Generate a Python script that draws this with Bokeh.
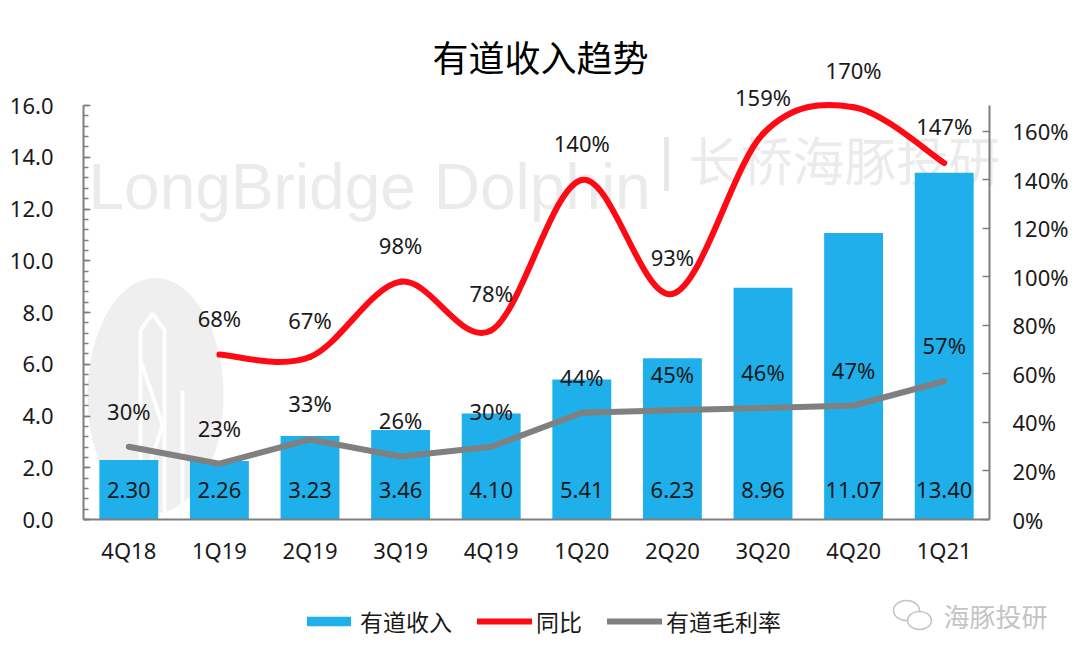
import numpy as np
from bokeh.plotting import figure
from bokeh.models import (Range1d, LinearAxis, FixedTicker, NumeralTickFormatter,
                          PrintfTickFormatter, ColumnDataSource, LabelSet, Label,
                          Legend, LegendItem)
from bokeh.embed import file_html
from bokeh.resources import INLINE
from bokeh.core.properties import value

# ---------------- data ----------------
quarters = ["4Q18", "1Q19", "2Q19", "3Q19", "4Q19", "1Q20", "2Q20", "3Q20", "4Q20", "1Q21"]
revenue = [2.30, 2.26, 3.23, 3.46, 4.10, 5.41, 6.23, 8.96, 11.07, 13.40]
yoy_quarters = ["1Q19", "2Q19", "3Q19", "4Q19", "1Q20", "2Q20", "3Q20", "4Q20", "1Q21"]
yoy = [68, 67, 98, 78, 140, 93, 159, 170, 147]
gross_margin = [30, 23, 33, 26, 30, 44, 45, 46, 47, 57]
left_ticks = [0, 2, 4, 6, 8, 10, 12, 14, 16]
right_ticks = [0, 20, 40, 60, 80, 100, 120, 140, 160]

BLUE = "#1FAFEA"
RED = "#FF0A14"
GRAY = "#808080"
AXIS = "#7F7F7F"
TXT = "#1A1A1A"
LATIN = "Noto Sans"
CJK = "Noto Sans CJK SC"

# ---------------- layout geometry (pixels) ----------------
W, H = 1080, 663
F_LEFT, F_RIGHT = 83, 989          # plot area left / right edge
Y_TOP, Y_ZERO = 105, 519           # pixel rows of left-axis 16.0 and 0.0
L_MAX, R_MAX = 16.0, 170.7
ppu_l = (Y_ZERO - Y_TOP) / L_MAX
ppu_r = (Y_ZERO - Y_TOP) / R_MAX
ncat = len(quarters)
ppx = (F_RIGHT - F_LEFT) / ncat


def dx(px):
    return (px - F_LEFT) / ppx - 0.5


def dy(py):
    return (Y_ZERO - py) / ppu_l


xi = np.arange(ncat, dtype=float)
yoy_x = np.array([quarters.index(q) for q in yoy_quarters], dtype=float)
yoy_y = np.array(yoy, dtype=float)

p = figure(width=W, height=H, output_backend="svg", toolbar_location=None,
           x_range=Range1d(-0.5, dx(W)),
           y_range=Range1d(-(H - Y_ZERO) / ppu_l, L_MAX + Y_TOP / ppu_l),
           min_border=0, min_border_left=F_LEFT, min_border_right=0,
           min_border_top=0, min_border_bottom=0, outline_line_color=None,
           background_fill_color="white", border_fill_color="white")
p.extra_y_ranges = {"pct": Range1d(-(H - Y_ZERO) / ppu_r, R_MAX + Y_TOP / ppu_r)}
p.xgrid.grid_line_color = None
p.ygrid.grid_line_color = None

# ---------------- watermark ----------------
logo = p.ellipse(x=dx(155), y=dy(395), width=136, height=235, width_units="screen",
                 height_units="screen", fill_color="#EFEFEF", line_color=None)
logo.level = "underlay"
tower = p.multi_line(xs=[[dx(140), dx(140), dx(152), dx(164), dx(164)],
                         [dx(140), dx(164)], [dx(164), dx(140)], [dx(182), dx(182)]],
                     ys=[[dy(515), dy(330), dy(313), dy(330), dy(515)],
                         [dy(360), dy(430)], [dy(420), dy(490)], [dy(515), dy(390)]],
                     line_color="white", line_width=4, line_alpha=0.9)
tower.level = "underlay"

p.add_layout(Label(x=dx(88), y=dy(186), text="LongBridge Dolphin", text_font="Liberation Sans",
                   text_font_size="64px", text_color="#EBEBEB", text_baseline="alphabetic",
                   level="underlay"))
p.add_layout(Label(x=dx(666), y=dy(158), text="|", text_font="Liberation Sans",
                   text_font_size="58px", text_color="#E6E6E6", text_baseline="middle",
                   text_align="center", level="underlay"))
p.add_layout(Label(x=dx(688), y=dy(158), text="长桥海豚投研", text_font=CJK,
                   text_font_size="52px", text_color="#EBEBEB", text_baseline="middle",
                   level="underlay"))

# ---------------- bars ----------------
src_bar = ColumnDataSource(dict(x=xi, top=revenue, t=[f"{v:.2f}" for v in revenue],
                                z=[0] * ncat))
bars = p.vbar(x="x", top="top", width=0.65, source=src_bar, fill_color=BLUE, line_color=None)
p.add_layout(LabelSet(x="x", y="z", text="t", source=src_bar, y_offset=30,
                      text_align="center", text_baseline="middle",
                      text_font=value(LATIN), text_font_size="22px", text_color=TXT))

# ---------------- YoY smoothed line (Catmull-Rom -> bezier) ----------------
n = len(yoy_x)
x0, y0, x1, y1, cx0, cy0, cx1, cy1 = ([] for _ in range(8))
for i in range(n - 1):
    pa = np.array([yoy_x[max(i - 1, 0)], yoy_y[max(i - 1, 0)]])
    pb = np.array([yoy_x[i], yoy_y[i]])
    pc = np.array([yoy_x[i + 1], yoy_y[i + 1]])
    pd = np.array([yoy_x[min(i + 2, n - 1)], yoy_y[min(i + 2, n - 1)]])
    c0 = pb + (pc - pa) / 6.0
    c1 = pc - (pd - pb) / 6.0
    x0.append(pb[0]); y0.append(pb[1]); x1.append(pc[0]); y1.append(pc[1])
    cx0.append(c0[0]); cy0.append(c0[1]); cx1.append(c1[0]); cy1.append(c1[1])
red = p.bezier(x0=x0, y0=y0, x1=x1, y1=y1, cx0=cx0, cy0=cy0, cx1=cx1, cy1=cy1,
               line_color=RED, line_width=6, line_cap="round", y_range_name="pct")

# ---------------- gross margin line ----------------
gray = p.line(x=xi, y=gross_margin, line_color=GRAY, line_width=6, line_cap="round",
              line_join="round", y_range_name="pct")

src_yoy = ColumnDataSource(dict(x=yoy_x, y=yoy_y, t=[f"{v}%" for v in yoy]))
p.add_layout(LabelSet(x="x", y="y", text="t", source=src_yoy, y_offset=37,
                      y_range_name="pct", text_align="center", text_baseline="middle",
                      text_font=value(LATIN), text_font_size="22px", text_color=TXT))
src_gm = ColumnDataSource(dict(x=xi, y=gross_margin, t=[f"{v}%" for v in gross_margin]))
p.add_layout(LabelSet(x="x", y="y", text="t", source=src_gm, y_offset=36,
                      y_range_name="pct", text_align="center", text_baseline="middle",
                      text_font=value(LATIN), text_font_size="22px", text_color=TXT))

# ---------------- axes ----------------
xa = p.xaxis[0]
xa.fixed_location = 0
xa.bounds = (-0.5, ncat - 0.5)
xa.ticker = FixedTicker(ticks=list(xi))
xa.major_label_overrides = {float(i): q for i, q in enumerate(quarters)}
xa.major_tick_line_color = None
xa.minor_tick_line_color = None
xa.axis_line_color = AXIS
xa.axis_line_width = 2
xa.major_label_standoff = 9
xa.major_label_text_font = LATIN
xa.major_label_text_font_size = "22px"
xa.major_label_text_color = TXT

ya = p.yaxis[0]
ya.bounds = (0, L_MAX)
ya.ticker = FixedTicker(ticks=left_ticks, minor_ticks=[v * 0.4 for v in range(41)])
ya.formatter = NumeralTickFormatter(format="0.0")
ya.axis_line_color = AXIS
ya.axis_line_width = 2
ya.major_tick_in = 7
ya.major_tick_out = 0
ya.minor_tick_in = 5
ya.minor_tick_out = 0
ya.major_tick_line_color = AXIS
ya.minor_tick_line_color = AXIS
ya.major_tick_line_width = 1.5
ya.minor_tick_line_width = 1.5
ya.major_label_standoff = 30
ya.major_label_text_font = LATIN
ya.major_label_text_font_size = "22px"
ya.major_label_text_color = TXT

ra = LinearAxis(y_range_name="pct", bounds=(0, R_MAX), fixed_location=ncat - 0.5,
                ticker=FixedTicker(ticks=right_ticks),
                formatter=PrintfTickFormatter(format="%d%%"))
ra.axis_line_color = AXIS
ra.axis_line_width = 2
ra.major_tick_in = 7
ra.major_tick_out = 0
ra.major_tick_line_color = AXIS
ra.major_tick_line_width = 1.5
ra.minor_tick_line_color = None
ra.major_label_standoff = 23
ra.major_label_text_font = LATIN
ra.major_label_text_font_size = "22px"
ra.major_label_text_color = TXT
p.add_layout(ra, "right")

# ---------------- title & footer ----------------
p.add_layout(Label(x=dx(540), y=dy(55), text="有道收入趋势", text_font=CJK,
                   text_font_size="36px", text_color="black", text_align="center",
                   text_baseline="middle"))
wx = p.ellipse(x=[dx(906), dx(919)], y=[dy(610), dy(620)], width=[26, 24], height=[20, 18],
               width_units="screen", height_units="screen", fill_color="white",
               line_color="#C4C4C4", line_width=1.5)
p.add_layout(Label(x=dx(995), y=dy(615), text="海豚投研", text_font=CJK, text_font_size="26px",
                   text_color="#C4C4C4", text_align="center", text_baseline="middle"))

# ---------------- legend ----------------
legend = Legend(items=[LegendItem(label="有道收入", renderers=[bars]),
                       LegendItem(label="同比", renderers=[red]),
                       LegendItem(label="有道毛利率", renderers=[gray])],
                orientation="horizontal", location=(301 - F_LEFT, H - 622 - 16),
                glyph_width=55, glyph_height=12, label_standoff=4, spacing=25,
                padding=0, margin=0, border_line_color=None, background_fill_alpha=0,
                label_text_font=CJK, label_text_font_size="23px", label_text_color=TXT)
p.add_layout(legend)

open("out.html", "w").write(file_html(p, INLINE))
